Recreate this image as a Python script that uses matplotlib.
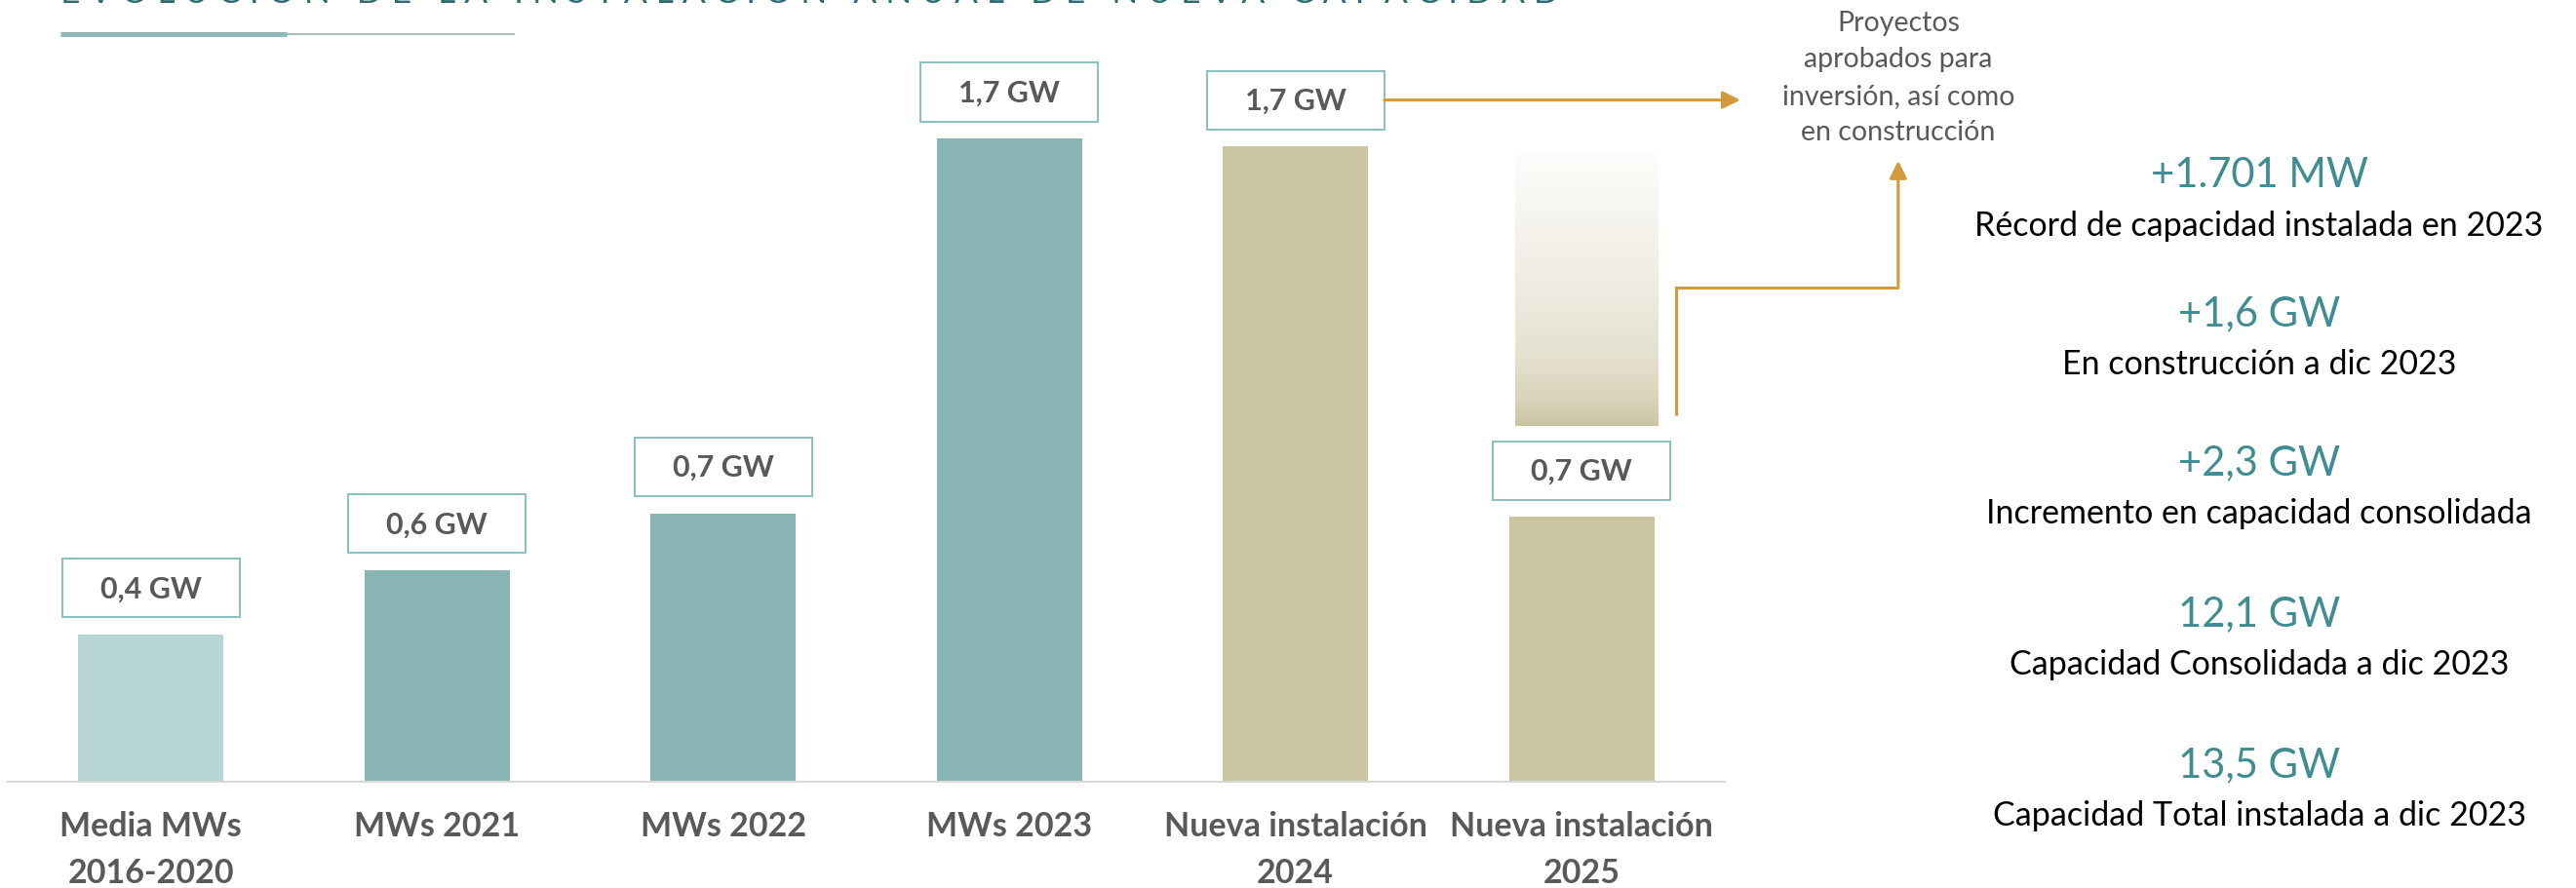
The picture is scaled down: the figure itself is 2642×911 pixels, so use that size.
import matplotlib
matplotlib.use("Agg")
import matplotlib.pyplot as plt
from matplotlib.colors import LinearSegmentedColormap
from matplotlib.lines import Line2D
from matplotlib.patches import Rectangle
import numpy as np

plt.rcParams["font.family"] = ["Lato", "DejaVu Sans"]

# ------------------------------------------------------------------ data
TITLE = "EVOLUCIÓN DE LA INSTALACIÓN ANUAL DE NUEVA CAPACIDAD"
categories = ["Media MWs\n2016-2020", "MWs 2021", "MWs 2022", "MWs 2023",
              "Nueva instalación\n2024", "Nueva instalación\n2025"]
values_gw = [0.39, 0.56, 0.71, 1.701, 1.68, 0.70]
bar_labels = ["0,4 GW", "0,6 GW", "0,7 GW", "1,7 GW", "1,7 GW", "0,7 GW"]
ghost_2025 = (0.94, 1.665)          # faded projection above the 2025 bar
note = "Proyectos\naprobados para\ninversión, así como\nen construcción"
kpi_values = ["+1.701 MW", "+1,6 GW", "+2,3 GW", "12,1 GW", "13,5 GW"]
kpi_texts = ["Récord de capacidad instalada en 2023",
             "En construcción a dic 2023",
             "Incremento en capacidad consolidada",
             "Capacidad Consolidada a dic 2023",
             "Capacidad Total instalada a dic 2023"]

# ----------------------------------------------------------------- style
bar_colors = ["#B7D5D4", "#8AB5B5", "#8AB5B5", "#8AB5B5", "#CAC4A1", "#CAC4A1"]
GRAY = "#595959"
TEAL = "#3F8C92"
GOLD = "#D19A3A"
BOX_EDGE = "#8FC0C0"

W, H = 2642, 912
fig = plt.figure(figsize=(W / 100, H / 100), dpi=100)
ax = fig.add_axes([8 / W, (H - 803) / H, (1769 - 8) / W, (803 - 40) / H])

x = np.arange(len(categories))
bw = 0.508
ax.bar(x, values_gw, width=bw, color=bar_colors, zorder=2)

# gradient "ghost" bar for 2025
grad = LinearSegmentedColormap.from_list(
    "ghost", [(0.0, "#CCC5A3"), (0.1, "#DAD4BC"), (0.25, "#E5E1CF"),
              (0.5, "#EEEBE1"), (1.0, "#FDFDFB")])
ramp = np.linspace(0, 1, 256).reshape(-1, 1)
ax.imshow(ramp, cmap=grad, origin="lower", aspect="auto", zorder=1,
          extent=[x[5] - bw / 2 + 0.02, x[5] + bw / 2 + 0.01, *ghost_2025])

# value boxes
box_w, box_h, gap = 0.62, 0.155, 0.045
for xi, v, lab in zip(x, values_gw, bar_labels):
    ax.add_patch(Rectangle((xi - box_w / 2, v + gap), box_w, box_h,
                           facecolor="white", edgecolor=BOX_EDGE, lw=1.5,
                           zorder=3, clip_on=False))
    ax.text(xi, v + gap + box_h / 2, lab, ha="center", va="center",
            fontsize=22, fontweight="bold", color=GRAY, zorder=4)

ax.set_xlim(-0.5, 5.5)
ax.set_ylim(0, 763 / 388)
ax.set_xticks(x, categories, fontsize=24.5, fontweight="bold", color=GRAY,
              linespacing=1.6)
ax.tick_params(axis="x", length=0, pad=21)
ax.set_yticks([])
for s in ("top", "left", "right"):
    ax.spines[s].set_visible(False)
ax.spines["bottom"].set_color("#D9D9D9")
ax.spines["bottom"].set_linewidth(1.5)

# arrows
aprops = dict(arrowstyle="-|>,head_length=0.6,head_width=0.3",
              mutation_scale=18, color=GOLD, lw=2.2, shrinkA=0, shrinkB=0)
y1 = values_gw[4] + gap + box_h / 2
ax.annotate("", xy=(5.554, y1), xytext=(x[4] + box_w / 2, y1),
            arrowprops=aprops, annotation_clip=False)
ax.plot([5.329, 5.329, 6.106], [0.969, 1.307, 1.307], color=GOLD, lw=2.2,
        clip_on=False, solid_joinstyle="miter", solid_capstyle="butt")
ax.annotate("", xy=(6.106, 1.642), xytext=(6.106, 1.307),
            arrowprops=aprops, annotation_clip=False)

fig.text(1947 / W, 1 - 80 / H, note, ha="center", va="center", fontsize=20.5,
         color=GRAY, linespacing=1.55)

# KPI column
kpi_y = [180, 322, 475, 630, 785]
for yv, val, txt in zip(kpi_y, kpi_values, kpi_texts):
    fig.text(2317 / W, 1 - yv / H, val, ha="center", va="center",
             fontsize=30, color=TEAL)
    fig.text(2317 / W, 1 - (yv + 52) / H, txt, ha="center", va="center",
             fontsize=24.5, color="black")

# title (clipped at the top edge) and its rule
spaced = "   ".join(" ".join(w) for w in TITLE.split(" "))
t = fig.text(62 / W, 1 - 3 / H, spaced, ha="left", va="baseline",
             fontsize=26, color="#2E6B70")
fig.canvas.draw()
wpx = t.get_window_extent().width
t.set_fontsize(26 * 1542 / wpx)

fig.add_artist(Line2D([62 / W, 294 / W], [1 - 36 / H] * 2, lw=3.6,
                      color="#8DB9B9", solid_capstyle="butt"))
fig.add_artist(Line2D([294 / W, 528 / W], [1 - 36 / H] * 2, lw=1.4,
                      color="#A9BDB6", solid_capstyle="butt"))

fig.savefig("out.png", dpi=100)
